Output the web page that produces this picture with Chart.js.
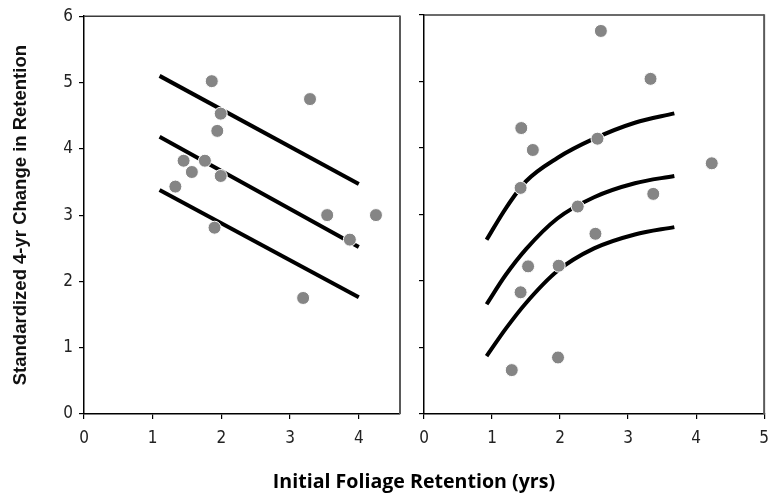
<!DOCTYPE html>
<html>
<head>
<meta charset="utf-8">
<script src="https://cdn.jsdelivr.net/npm/chart.js@4.4.0/dist/chart.umd.min.js"></script>
<style>
  html, body { margin: 0; padding: 0; background: #fff; }
  #wrap { position: relative; width: 778px; height: 495px; overflow: hidden; }
  #c1 { position: absolute; left: 0; top: 0; }
  #c2 { position: absolute; left: 410px; top: 0; }
  #xtitle { position: absolute; left: 0; width: 828px; top: 467px; text-align: center;
            font: 700 19.6px 'Open Sans', sans-serif; color: #000; white-space: nowrap; }
</style>
</head>
<body>
<div id="wrap">
  <canvas id="c1" width="410" height="495"></canvas>
  <canvas id="c2" width="368" height="495"></canvas>
  <div id="xtitle">Initial Foliage Retention (yrs)</div>
</div>
<script>
// ---- Data ----
const yTitle = 'Standardized 4-yr Change in Retention';
const yTicks = [0, 1, 2, 3, 4, 5, 6];
const xTicksLeft = [0, 1, 2, 3, 4];
const xTicksRight = [0, 1, 2, 3, 4, 5];

// Left panel scatter
const leftX = [1.86, 3.29, 1.99, 1.94, 1.45, 1.76, 1.57, 1.99, 1.33, 3.54, 4.25, 1.90, 3.87, 3.19];
const leftY = [5.02, 4.75, 4.53, 4.27, 3.82, 3.82, 3.65, 3.59, 3.43, 3.00, 3.00, 2.81, 2.63, 1.75];

// Left panel fitted lines (endpoints)
const leftLineX = [1.10, 4.00];
const leftUpper = [5.10, 3.47];
const leftMid = [4.18, 2.52];
const leftLower = [3.38, 1.76];

// Right panel scatter
const rightX = [2.60, 3.33, 1.43, 2.55, 1.60, 4.23, 1.42, 3.37, 2.26, 2.52, 1.53, 1.98, 1.42, 1.97, 1.29];
const rightY = [5.76, 5.04, 4.30, 4.14, 3.97, 3.77, 3.40, 3.31, 3.12, 2.71, 2.22, 2.23, 1.83, 0.85, 0.66];

// Right panel fitted curves
const rightCurveX = [0.92, 1.20, 1.50, 1.96, 2.50, 3.10, 3.68];
const rightUpper = [2.62, 3.09, 3.50, 3.85, 4.14, 4.38, 4.52];
const rightMid = [1.65, 2.09, 2.48, 2.94, 3.26, 3.47, 3.58];
const rightLower = [0.87, 1.28, 1.67, 2.15, 2.49, 2.70, 2.81];

// ---- helpers ----
const zip = (xs, ys) => xs.map((x, i) => ({ x: x, y: ys[i] }));
const tickFont = { family: "'Liberation Sans Narrow', 'DejaVu Sans Condensed', 'Liberation Sans', sans-serif", size: 17 };

function pointsDs(xs, ys) {
  return { type: 'scatter', data: zip(xs, ys), pointRadius: 6.5, pointHoverRadius: 6.5,
           pointBackgroundColor: '#858585', pointBorderColor: '#ffffff', pointBorderWidth: 1, order: 0 };
}
function lineDs(xs, ys, curved) {
  return { type: 'line', data: zip(xs, ys), showLine: true, pointRadius: 0, borderColor: '#000',
           borderWidth: 4, borderCapStyle: 'butt', fill: false, order: 1,
           cubicInterpolationMode: curved ? 'monotone' : 'default', tension: 0 };
}

const framePlugin = {
  id: 'frame',
  afterDatasetsDraw(chart) {
    const { ctx, chartArea: a } = chart;
    ctx.save();
    ctx.strokeStyle = '#3a3a3a';
    ctx.lineWidth = 1.5;
    ctx.beginPath(); ctx.moveTo(a.left, a.top); ctx.lineTo(a.right, a.top); ctx.stroke();
    ctx.strokeStyle = '#5a5a5a';
    ctx.lineWidth = 2;
    ctx.beginPath(); ctx.moveTo(a.right, a.top - 0.75); ctx.lineTo(a.right, a.bottom); ctx.stroke();
    ctx.restore();
  }
};

function makeScales(xTicks, xMax, showYLabels) {
  return {
    x: {
      type: 'linear', min: 0, max: xMax,
      afterBuildTicks: s => { s.ticks = xTicks.map(v => ({ value: v })); },
      afterFit: s => { s.height = 81; },
      grid: { drawOnChartArea: false, tickLength: 5, color: '#000', lineWidth: 1.2 },
      border: { color: '#000', width: 1.5 },
      ticks: { font: tickFont, color: '#222', padding: 9, maxRotation: 0 }
    },
    y: {
      type: 'linear', min: 0, max: 6,
      afterBuildTicks: s => { s.ticks = yTicks.map(v => ({ value: v })); },
      afterFit: s => { s.width = showYLabels ? 84 : 14; },
      grid: { drawOnChartArea: false, tickLength: 5, color: '#000', lineWidth: 1.2 },
      border: { color: '#000', width: 1.5 },
      ticks: { display: showYLabels, font: tickFont, color: '#222', padding: 6 },
      title: showYLabels ? { display: true, text: yTitle, color: '#111',
        font: { family: "'Liberation Sans', Arial, sans-serif", size: 18.5, weight: 'bold' },
        padding: { top: 10, bottom: 0 } } : { display: false }
    }
  };
}

const common = {
  responsive: false, animation: false,
  plugins: { legend: { display: false }, tooltip: { enabled: false } },
  events: []
};

new Chart(document.getElementById('c1'), {
  type: 'scatter',
  data: { datasets: [
    pointsDs(leftX, leftY),
    lineDs(leftLineX, leftUpper, false),
    lineDs(leftLineX, leftMid, false),
    lineDs(leftLineX, leftLower, false)
  ] },
  options: Object.assign({}, common, {
    layout: { padding: { top: 15, right: 10, bottom: 0, left: 0 } },
    scales: makeScales(xTicksLeft, 4.6, true)
  }),
  plugins: [framePlugin]
});

new Chart(document.getElementById('c2'), {
  type: 'scatter',
  data: { datasets: [
    pointsDs(rightX, rightY),
    lineDs(rightCurveX, rightUpper, true),
    lineDs(rightCurveX, rightMid, true),
    lineDs(rightCurveX, rightLower, true)
  ] },
  options: Object.assign({}, common, {
    layout: { padding: { top: 15, right: 8, bottom: 0, left: 0 } },
    scales: makeScales(xTicksRight, 5, false)
  }),
  plugins: [framePlugin]
});
</script>
</body>
</html>
